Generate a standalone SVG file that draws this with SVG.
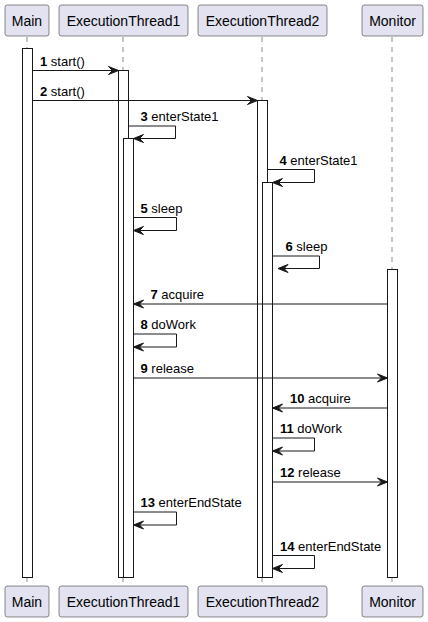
<svg xmlns="http://www.w3.org/2000/svg" width="428" height="622" viewBox="0 0 428 622">
<style>
.box{fill:#E2E2F0;stroke:#181818;stroke-width:0.5}
.pt{font-family:"Liberation Sans",Arial,sans-serif;font-size:14px;fill:#000;text-anchor:middle}
.life{stroke:#181818;stroke-width:0.5;stroke-dasharray:5,5;fill:none}
.act{fill:#FFFFFF;stroke:#181818;stroke-width:1}
.msg{stroke:#181818;stroke-width:1;fill:none;marker-end:url(#ah)}
.ml{font-family:"Liberation Sans",Arial,sans-serif;font-size:13px;fill:#000}
.ml tspan.n{font-weight:bold}
</style>
<defs>
<marker id="ah" viewBox="-11 -5 12 10" refX="0" refY="0" markerWidth="12" markerHeight="10" markerUnits="userSpaceOnUse" orient="auto">
<path d="M-10,-4 L0,0 L-10,4 L-6,0 Z" fill="#181818" stroke="#181818" stroke-width="1" stroke-linejoin="miter"/>
</marker>
</defs>
<rect width="428" height="622" fill="#FFFFFF"/>
<g id="lifelines">
<line class="life" x1="27" y1="37" x2="27" y2="586"/>
<line class="life" x1="123" y1="37" x2="123" y2="586"/>
<line class="life" x1="262" y1="37" x2="262" y2="586"/>
<line class="life" x1="392" y1="37" x2="392" y2="586"/>
</g>
<g id="Main">
<rect class="box" x="5" y="5" width="44" height="31" rx="2.5"/>
<text class="pt" x="27" y="26">Main</text>
<rect class="act" x="22.5" y="48.5" width="10" height="529"/>
<rect class="box" x="5" y="586" width="44" height="31" rx="2.5"/>
<text class="pt" x="27" y="607">Main</text>
</g>
<g id="ExecutionThread1">
<rect class="box" x="59" y="5" width="129" height="31" rx="2.5"/>
<text class="pt" x="123.5" y="26">ExecutionThread1</text>
<rect class="act" x="118.5" y="70.5" width="10" height="507"/>
<rect class="act" x="123.5" y="138.5" width="10" height="439"/>
<rect class="box" x="59" y="586" width="129" height="31" rx="2.5"/>
<text class="pt" x="123.5" y="607">ExecutionThread1</text>
</g>
<g id="ExecutionThread2">
<rect class="box" x="198" y="5" width="129" height="31" rx="2.5"/>
<text class="pt" x="262.5" y="26">ExecutionThread2</text>
<rect class="act" x="257.5" y="100.5" width="10" height="477"/>
<rect class="act" x="262.5" y="182.5" width="10" height="395"/>
<rect class="box" x="198" y="586" width="129" height="31" rx="2.5"/>
<text class="pt" x="262.5" y="607">ExecutionThread2</text>
</g>
<g id="Monitor">
<rect class="box" x="362" y="5" width="61" height="31" rx="2.5"/>
<text class="pt" x="392.5" y="26">Monitor</text>
<rect class="act" x="387.5" y="269.5" width="10" height="308"/>
<rect class="box" x="362" y="586" width="61" height="31" rx="2.5"/>
<text class="pt" x="392.5" y="607">Monitor</text>
</g>
<g id="connectors">
<line class="msg" x1="32.5" y1="70.5" x2="118.5" y2="70.5"/>
<text class="ml" x="40" y="66"><tspan class="n">1</tspan> start()</text>
<line class="msg" x1="32.5" y1="100.5" x2="257.5" y2="100.5"/>
<text class="ml" x="40" y="96"><tspan class="n">2</tspan> start()</text>
<polyline class="msg" points="128.5,126 175.5,126 175.5,138.5 133.5,138.5"/>
<text class="ml" x="140.5" y="121"><tspan class="n">3</tspan> enterState1</text>
<polyline class="msg" points="267.5,169.5 314.5,169.5 314.5,182.5 272.5,182.5"/>
<text class="ml" x="279.5" y="165"><tspan class="n">4</tspan> enterState1</text>
<polyline class="msg" points="133.5,217.5 176.5,217.5 176.5,230.5 133.5,230.5"/>
<text class="ml" x="140.5" y="213"><tspan class="n">5</tspan> sleep</text>
<polyline class="msg" points="272.5,256 319.5,256 319.5,268.5 278,268.5"/>
<text class="ml" x="285.5" y="251"><tspan class="n">6</tspan> sleep</text>
<line class="msg" x1="387.5" y1="304" x2="133.5" y2="304"/>
<text class="ml" x="150.5" y="299"><tspan class="n">7</tspan> acquire</text>
<polyline class="msg" points="133.5,334 176.5,334 176.5,347 133.5,347"/>
<text class="ml" x="140.5" y="329"><tspan class="n">8</tspan> doWork</text>
<line class="msg" x1="133.5" y1="378" x2="387.5" y2="378"/>
<text class="ml" x="140.5" y="373"><tspan class="n">9</tspan> release</text>
<line class="msg" x1="387.5" y1="408" x2="272.5" y2="408"/>
<text class="ml" x="290" y="403"><tspan class="n">10</tspan> acquire</text>
<polyline class="msg" points="272.5,438 314.5,438 314.5,451 272.5,451"/>
<text class="ml" x="280" y="433"><tspan class="n">11</tspan> doWork</text>
<line class="msg" x1="272.5" y1="482" x2="387.5" y2="482"/>
<text class="ml" x="280" y="477"><tspan class="n">12</tspan> release</text>
<polyline class="msg" points="133.5,512 176.5,512 176.5,525 133.5,525"/>
<text class="ml" x="140.5" y="507"><tspan class="n">13</tspan> enterEndState</text>
<polyline class="msg" points="272.5,555.5 314.5,555.5 314.5,568.5 272.5,568.5"/>
<text class="ml" x="280" y="551"><tspan class="n">14</tspan> enterEndState</text>
</g>
</svg>
